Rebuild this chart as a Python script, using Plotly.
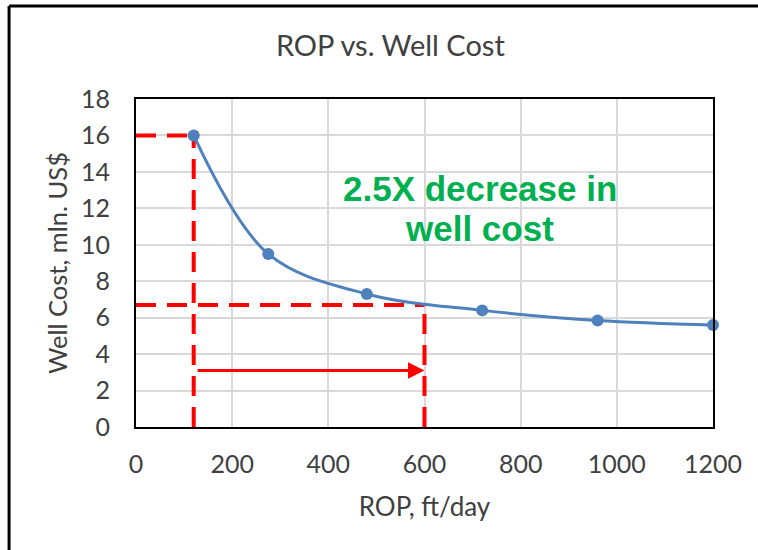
'''
    ROP vs. Well Cost chart with the break-even guide lines.
'''

import plotly.graph_objects as go

# data
rop = [120, 275, 480, 720, 960, 1200]
well_cost = [16.0, 9.5, 7.3, 6.4, 5.85, 5.6]

# guide values
base_rop = 120
base_cost = 16.0
target_rop = 600
target_cost = 6.7
arrow_level = 3.1

x_ticks = [0, 200, 400, 600, 800, 1000, 1200]
y_ticks = [0, 2, 4, 6, 8, 10, 12, 14, 16, 18]

label_lines = ["2.5X decrease in", "well cost"]
label_x = 715
label_y = [13.1, 10.9]

FONT = "Lato"
GREY = "#404040"
RED = "#FF0000"
BLUE = "#4F81BD"
GREEN = "#00B050"

fig = go.Figure()

# main series, smoothed like the spreadsheet chart
fig.add_trace(go.Scatter(
    x=rop, y=well_cost, mode="lines+markers",
    line=dict(color=BLUE, width=3, shape="spline", smoothing=1.0),
    marker=dict(color=BLUE, size=12),
    showlegend=False, cliponaxis=False))

red_line = dict(color=RED, width=4, dash="20px,11px")
guides = [
    # base point
    dict(x0=0, x1=base_rop, y0=base_cost, y1=base_cost),
    dict(x0=base_rop, x1=base_rop, y0=0, y1=base_cost),
    # target point
    dict(x0=0, x1=target_rop, y0=target_cost, y1=target_cost),
    dict(x0=target_rop, x1=target_rop, y0=0, y1=target_cost),
]
for g in guides:
    fig.add_shape(type="line", xref="x", yref="y", layer="between",
                  line=red_line, **g)

# arrow from base ROP to target ROP
fig.add_annotation(x=target_rop, y=arrow_level, ax=base_rop + 5, ay=arrow_level,
                   xref="x", yref="y", axref="x", ayref="y",
                   text="", showarrow=True, arrowhead=2, arrowsize=1.1,
                   arrowwidth=3, arrowcolor=RED, standoff=0)

# green label, one annotation per line to keep the tight line spacing
for txt, ly in zip(label_lines, label_y):
    fig.add_annotation(x=label_x, y=ly, xref="x", yref="y", showarrow=False,
                       text=txt,
                       font=dict(family="Liberation Sans, Arial", size=35,
                                 color=GREEN, weight="bold"))

# outer frame of the picture
fig.add_shape(type="line", xref="paper", yref="paper",
              x0=-0.22, x1=2, y0=1.2835, y1=1.2835,
              line=dict(color="black", width=3))
fig.add_shape(type="line", xref="paper", yref="paper",
              x0=-0.22, x1=-0.22, y0=-1, y1=1.2835,
              line=dict(color="black", width=3))

fig.update_xaxes(range=[0, 1200], tickvals=x_ticks, showgrid=True,
                 gridcolor="#D9D9D9", gridwidth=1.5,
                 showline=True, linecolor="black", linewidth=2, mirror=True,
                 ticks="outside", ticklen=14, tickcolor="rgba(0,0,0,0)",
                 tickfont=dict(family=FONT, size=25, color=GREY),
                 title=dict(text="ROP, ft/day", standoff=21,
                            font=dict(family=FONT, size=26, color=GREY)),
                 zeroline=False)
fig.update_yaxes(range=[0, 18], tickvals=y_ticks, showgrid=True,
                 gridcolor="#D9D9D9", gridwidth=1.5,
                 showline=True, linecolor="black", linewidth=2, mirror=True,
                 ticks="outside", ticklen=19, tickcolor="rgba(0,0,0,0)",
                 tickfont=dict(family=FONT, size=25, color=GREY),
                 title=dict(text="Well Cost, mln. US$", standoff=6,
                            font=dict(family=FONT, size=25.5, color=GREY)),
                 zeroline=False)

fig.update_layout(
    width=758, height=550,
    margin=dict(l=136, r=45, t=99, b=123),
    paper_bgcolor="white", plot_bgcolor="white",
    title=dict(text="ROP vs. Well Cost", x=0.515, xanchor="center",
               y=1 - 46 / 550, yanchor="middle",
               font=dict(family=FONT, size=29, color=GREY)),
)

# drop the default page margin so the chart sits at the window corner
fig.write_html("out.html", config={"displayModeBar": False},
               post_script="document.body.style.margin='0';")
